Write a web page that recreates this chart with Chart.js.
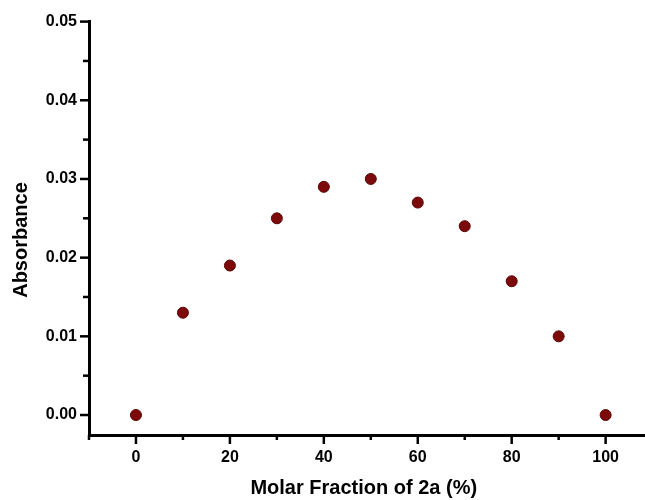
<!DOCTYPE html>
<html>
<head>
<meta charset="utf-8">
<script src="https://cdn.jsdelivr.net/npm/chart.js@4/dist/chart.umd.min.js"></script>
<style>
  body { margin: 0; background: #fff; overflow: hidden; }
  #wrap { width: 645px; height: 500px; }
  canvas { display: block; }
</style>
</head>
<body>
<div id="wrap"><canvas id="jobChart" width="645" height="500"></canvas></div>
<script>
// datos
var fraccion = [0, 10, 20, 30, 40, 50, 60, 70, 80, 90, 100];
var absorbancia = [0.000, 0.013, 0.019, 0.025, 0.029, 0.030, 0.027, 0.024, 0.017, 0.010, 0.000];

var puntos = fraccion.map(function (x, i) { return { x: x, y: absorbancia[i] }; });

const fuente = "'Liberation Sans', Arial, sans-serif";

// marcas de los ejes (mayores y menores), eje x hasta el borde y titulo del eje y
const marcas = {
  id: 'marcas',
  afterDraw(chart) {
    const ctx = chart.ctx;
    const xs = chart.scales.x, ys = chart.scales.y;
    const area = chart.chartArea;
    ctx.save();
    ctx.strokeStyle = '#000';
    // el eje x llega hasta el borde derecho
    ctx.lineWidth = 3;
    ctx.beginPath();
    ctx.moveTo(area.right - 1, area.bottom + 0.5);
    ctx.lineTo(chart.width, area.bottom + 0.5);
    ctx.stroke();
    ctx.lineWidth = 2.5;
    for (let v = -10; v <= 110; v += 10) {
      if (v < xs.min || v > xs.max) continue;
      const px = xs.getPixelForValue(v);
      const len = (v % 20 === 0) ? 9 : 5;
      ctx.beginPath();
      ctx.moveTo(px, area.bottom);
      ctx.lineTo(px, area.bottom + len);
      ctx.stroke();
    }
    for (let k = 0; k <= 10; k++) {
      const v = k * 0.005;
      if (v < ys.min || v > ys.max + 1e-9) continue;
      const py = ys.getPixelForValue(v);
      const len = (k % 2 === 0) ? 9 : 6;
      ctx.beginPath();
      ctx.moveTo(area.left, py);
      ctx.lineTo(area.left - len, py);
      ctx.stroke();
    }
    // titulo eje y
    ctx.translate(21, 240);
    ctx.rotate(-Math.PI / 2);
    ctx.fillStyle = '#000';
    ctx.font = 'bold 20px ' + fuente;
    ctx.textAlign = 'center';
    ctx.textBaseline = 'middle';
    ctx.fillText('Absorbance', 0, 0);
    ctx.restore();
  }
};

const config = {
  type: 'scatter',
  data: {
    datasets: [{
      label: 'Absorbance',
      data: puntos,
      backgroundColor: '#7d0a0a',
      borderColor: '#5c0505',
      borderWidth: 1,
      pointRadius: 5.5,
      pointHoverRadius: 5.5
    }]
  },
  options: {
    responsive: false,
    animation: false,
    layout: { padding: { top: 21, right: 0, left: 0, bottom: 0 } },
    plugins: {
      legend: { display: false },
      tooltip: { enabled: false }
    },
    scales: {
      x: {
        type: 'linear',
        min: -10,
        max: 107,
        afterFit: function (s) { s.height = 65; s.paddingRight = 0; s.paddingLeft = 0; },
        grid: { display: false, drawTicks: false },
        border: { display: true, color: '#000', width: 3 },
        ticks: {
          stepSize: 20,
          includeBounds: false,
          padding: 13,
          color: '#000',
          font: { family: fuente, size: 16, weight: 'bold' }
        },
        title: {
          display: true,
          text: 'Molar Fraction of 2a (%)',
          color: '#000',
          padding: { top: 0, bottom: 0 },
          font: { family: fuente, size: 20, weight: 'bold' }
        }
      },
      y: {
        type: 'linear',
        min: -0.00254,
        max: 0.05,
        afterFit: function (s) { s.width = 89; },
        grid: { display: false, drawTicks: false },
        border: { display: true, color: '#000', width: 3 },
        ticks: {
          stepSize: 0.01,
          includeBounds: false,
          padding: 12,
          color: '#000',
          font: { family: fuente, size: 16, weight: 'bold' },
          callback: function (v) { return Number(v).toFixed(2); }
        }
      }
    }
  },
  plugins: [marcas]
};

var grafica = new Chart(document.getElementById('jobChart'), config);
</script>
</body>
</html>
